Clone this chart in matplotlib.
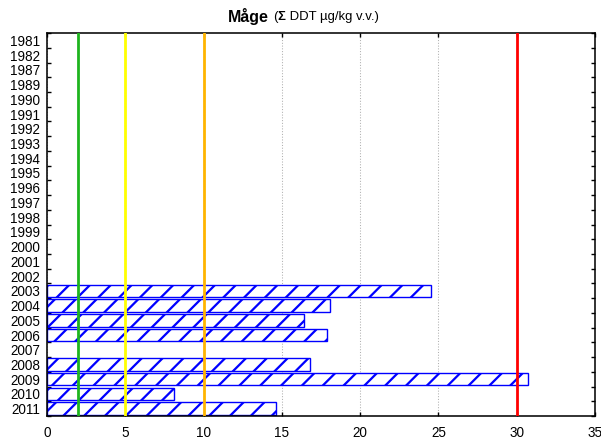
import numpy as np
import matplotlib.pyplot as plt

plt.rcParams['font.family'] = ['Liberation Sans', 'DejaVu Sans']
plt.rcParams['hatch.linewidth'] = 1.3

# years shown on the y axis (top to bottom)
years = ['1981', '1982', '1987', '1989', '1990', '1991', '1992', '1993', '1994',
         '1995', '1996', '1997', '1998', '1999', '2000', '2001', '2002', '2003',
         '2004', '2005', '2006', '2007', '2008', '2009', '2010', '2011']
# sum DDT values (0 = no measurement)
ddt = [0, 0, 0, 0, 0, 0, 0, 0, 0,
       0, 0, 0, 0, 0, 0, 0, 0, 24.5,
       18.1, 16.4, 17.9, 0, 16.8, 30.7, 8.1, 14.6]

# threshold lines
limits = [2, 5, 10, 30]
limit_colors = ['#1eb41e', '#ffff00', '#ffb400', '#ff0000']

fig = plt.figure(figsize=(601 / 125, 443 / 125), dpi=125)
ax = fig.add_axes([0.0782, 0.0609, 0.9118, 0.8645])

y = np.arange(len(years))
vals = np.array(ddt)
mask = vals > 0
ax.barh(y[mask], vals[mask], height=0.85, color='white', edgecolor='#0000ff',
        hatch='//', linewidth=0.8, zorder=2)

for v, c in zip(limits, limit_colors):
    ax.axvline(v, color=c, linewidth=1.6, zorder=3)

ax.set_xlim(0, 35)
ax.set_ylim(len(years) - 0.5, -0.5)
ax.set_xticks(np.arange(0, 36, 5))
ax.set_yticks(y)
ax.set_yticklabels(years)
ax.set_yticks(np.arange(-0.5, len(years), 1), minor=True)
ax.grid(axis='x', color='#b0b0b0', linestyle=':', linewidth=0.6, zorder=1)

ax.tick_params(axis='x', direction='in', top=True, bottom=True, length=2.5,
               width=0.8, labelsize=7.8, pad=6)
ax.tick_params(axis='y', which='major', length=0, labelsize=7.8, pad=4)
ax.tick_params(axis='y', which='minor', direction='in', left=True, right=True,
               length=2.5, width=0.8)
for s in ax.spines.values():
    s.set_linewidth(0.9)

# title pieces laid out left to right
pieces = [('Måge', 'bold', 9.2, 0.0), ('(', 'normal', 7.6, 4.0),
          ('Σ', 'bold', 7.6, 0.5), (' DDT µg/kg v.v.)', 'normal', 7.6, 0.0)]
renderer = fig.canvas.get_renderer()
x_px = 228.0
for txt, w, fs, gap in pieces:
    x_px += gap
    t = fig.text(x_px / 601, 0.962, txt, weight=w, fontsize=fs,
                 ha='left', va='center')
    x_px += t.get_window_extent(renderer).width

fig.savefig('out.png', dpi=125)
